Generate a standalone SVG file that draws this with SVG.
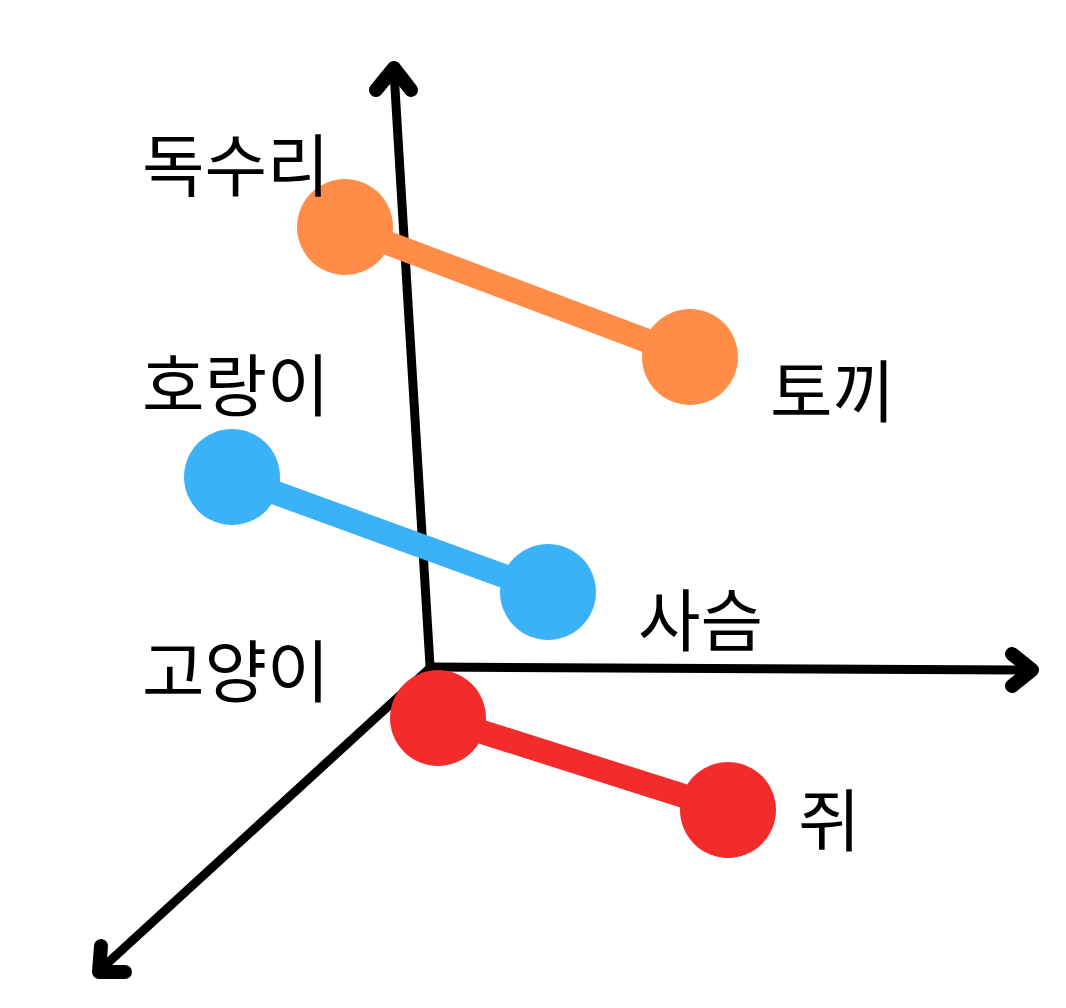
<svg xmlns="http://www.w3.org/2000/svg" width="1066" height="1008" viewBox="0 0 1066 1008">
<style>
.ax{stroke:#000;stroke-width:9;fill:none;stroke-linecap:round}
.ah{stroke:#000;stroke-width:14;fill:none;stroke-linecap:round;stroke-linejoin:round}
.lb{font-family:"Noto Sans CJK KR","Noto Sans",sans-serif;font-size:68px;fill:#000}
.or{fill:#FF8C47}.orl{stroke:#FF8C47;stroke-width:24}
.bl{fill:#3BB2F8}.bll{stroke:#3BB2F8;stroke-width:24}
.rd{fill:#F32B2B}.rdl{stroke:#F32B2B;stroke-width:24}
</style>
<rect width="1066" height="1008" fill="#fff"/>
<g id="axes">
<line class="ax" x1="430" y1="666" x2="394" y2="72"/>
<polyline class="ah" points="376,90 394,68 411,90"/>
<line class="ax" x1="430" y1="667" x2="1030" y2="670"/>
<polyline class="ah" points="1012,654 1032,670 1012,686"/>
<line class="ax" x1="430" y1="668" x2="100" y2="970"/>
<polyline class="ah" points="101,946 99,972 125,972"/>
</g>
<g id="connectors">
<line class="orl" x1="345" y1="227" x2="690" y2="357"/>
<line class="bll" x1="232" y1="477" x2="548" y2="592"/>
<line class="rdl" x1="438" y1="718" x2="728" y2="810"/>
</g>
<g id="n-doksuri"><circle class="or" cx="345" cy="227" r="48"/><text class="lb" x="142" y="191">독수리</text></g>
<g id="n-tokki"><circle class="or" cx="690" cy="357" r="48"/><text class="lb" x="770" y="417">토끼</text></g>
<g id="n-horangi"><circle class="bl" cx="232" cy="477" r="48"/><text class="lb" x="142" y="411">호랑이</text></g>
<g id="n-saseum"><circle class="bl" cx="548" cy="592" r="48"/><text class="lb" x="638" y="646">사슴</text></g>
<g id="n-goyangi"><text class="lb" x="142" y="697">고양이</text></g>
<g id="n-goyangi-dot"><circle class="rd" cx="438" cy="718" r="48"/></g>
<g id="n-jwi"><circle class="rd" cx="728" cy="810" r="48"/><text class="lb" x="798" y="846">쥐</text></g>
</svg>
